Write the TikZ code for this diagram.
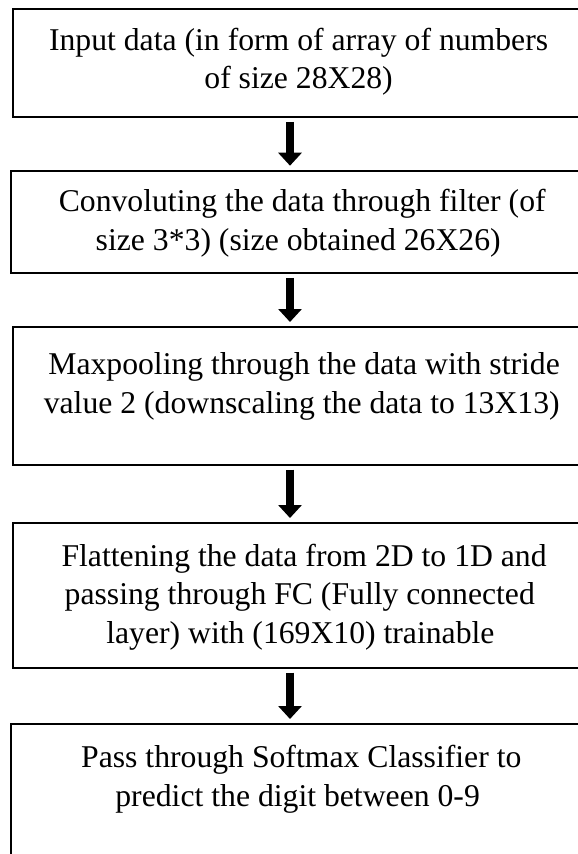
\documentclass[tikz,border=0pt]{standalone}
\usepackage{fontspec}
\setmainfont{Liberation Serif}
\usetikzlibrary{arrows.meta}

\begin{document}
\begin{tikzpicture}[x=1pt, y=-1pt,
  stagebox/.style={draw=black, line width=2.2pt, rectangle, inner sep=0pt,
    outer sep=0pt, anchor=north west},
  line/.style={anchor=base, inner sep=0pt,
    font=\fontsize{31.7}{38}\selectfont},
  flow/.style={line width=8pt, draw=black,
    -{Triangle[length=13pt, width=23pt]},
    shorten <=4.5pt, shorten >=5pt}
]
\useasboundingbox (0,0) rectangle (578,854);
\clip (0,0) rectangle (578,854);
\fill[white] (0,0) rectangle (578,854);

% process stages
\node[stagebox, minimum width=573pt, minimum height=108pt]   (b1) at (13,9.3)  {};
\node[stagebox, minimum width=575pt, minimum height=102.6pt] (b2) at (11,170.7) {};
\node[stagebox, minimum width=573pt, minimum height=138pt]   (b3) at (13,327)  {};
\node[stagebox, minimum width=573pt, minimum height=145pt]   (b4) at (13,523)  {};
\node[stagebox, minimum width=575pt, minimum height=200pt]   (b5) at (11,724)  {};

% stage texts
\node[line] (t1a) at (298.6,50)  {Input data (in form of array of numbers};
\node[line] (t1b) at (298.6,88)  {of size 28X28)};
\node[line] (t2a) at (302.2,211) {Convoluting the data through filter (of};
\node[line] (t2b) at (298.2,250) {size 3*3) (size obtained 26X26)};
\node[line] (t3a) at (304.1,374.5) {Maxpooling through the data with stride};
\node[line] (t3b) at (301.7,413) {value 2 (downscaling the data to 13X13)};
\node[line] (t4a) at (304.1,566) {Flattening the data from 2D to 1D and};
\node[line] (t4b) at (299.8,604.5) {passing through FC (Fully connected};
\node[line] (t4c) at (300.4,643) {layer) with (169X10) trainable};
\node[line] (t5a) at (301.3,767) {Pass through Softmax Classifier to};
\node[line] (t5b) at (297.6,806) {predict the digit between 0-9};

% arrows between stages
\coordinate (ax) at (290,0);
\draw[flow] (b1.south -| ax) -- (b2.north -| ax);
\draw[flow] (b2.south -| ax) -- (b3.north -| ax);
\draw[flow] (b3.south -| ax) -- (b4.north -| ax);
\draw[flow] (b4.south -| ax) -- (b5.north -| ax);
\end{tikzpicture}
\end{document}
